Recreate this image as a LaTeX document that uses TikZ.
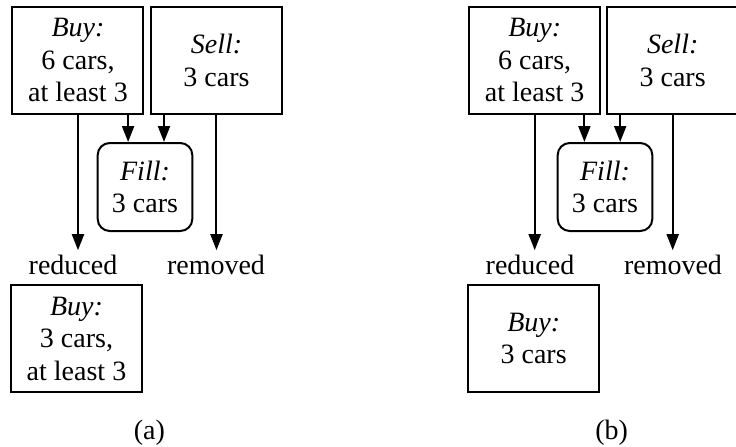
\documentclass[tikz,border=0pt]{standalone}
\usepackage{fontspec}
\setmainfont{Liberation Serif}
\usepackage{tikz}
\usetikzlibrary{arrows.meta}

\begin{document}
\begin{tikzpicture}[x=0.5pt, y=-0.5pt,
  font=\fontsize{14}{16.25}\selectfont,
  order/.style={draw, line width=1pt, align=center, inner sep=0pt, minimum width=65.5pt, minimum height=53.75pt},
  fillbox/.style={draw, line width=1pt, align=center, inner sep=0pt, rounded corners=6pt, minimum width=47.3pt, minimum height=44pt},
  tag/.style={anchor=base, inner sep=2pt},
  arr/.style={line width=1pt, -{Triangle[length=8pt, width=6pt]}}]
\useasboundingbox (0,0) rectangle (736,446);
% (a)
\node[order] (buyA) at (78,60.25) {\textit{Buy:}\\6 cars,\\at least 3};
\node[order] (sellA) at (216.5,60.25) {\textit{Sell:}\\3 cars};
\node[fillbox] (fillA) at (145,187) {\textit{Fill:}\\3 cars};
\node[tag] (redA) at (73,274) {reduced};
\node[tag] (remA) at (216,274) {removed};
\node[order] (newA) at (76.5,338.5) {\textit{Buy:}\\3 cars,\\at least 3};
\node[anchor=base] (capA) at (149.3,439) {(a)};
\draw[arr] (buyA.south) -- (buyA.south |- redA.north);
\draw[arr] (sellA.south) -- (sellA.south |- remA.north);
\draw[arr] ([xshift=-8.2pt]buyA.south east) coordinate (pa) -- (pa |- fillA.north);
\draw[arr] ([xshift=7pt]sellA.south west) coordinate (qa) -- (qa |- fillA.north);
% (b)
\node[order] (buyB) at (534.7,60.25) {\textit{Buy:}\\6 cars,\\at least 3};
\node[order] (sellB) at (672.7,60.25) {\textit{Sell:}\\3 cars};
\node[fillbox] (fillB) at (605,187) {\textit{Fill:}\\3 cars};
\node[tag] (redB) at (530,274) {reduced};
\node[tag] (remB) at (673,274) {removed};
\node[order] (newB) at (533.7,338.5) {\textit{Buy:}\\3 cars};
\node[anchor=base] (capB) at (611.7,439) {(b)};
\draw[arr] (buyB.south) -- (buyB.south |- redB.north);
\draw[arr] (sellB.south) -- (sellB.south |- remB.north);
\draw[arr] ([xshift=-8.4pt]buyB.south east) coordinate (pb) -- (pb |- fillB.north);
\draw[arr] ([xshift=7pt]sellB.south west) coordinate (qb) -- (qb |- fillB.north);
\end{tikzpicture}
\end{document}
